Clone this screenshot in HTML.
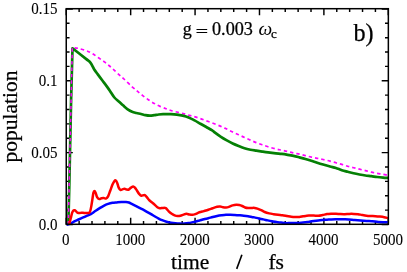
<!DOCTYPE html>
<html><head><meta charset="utf-8"><style>
html,body{margin:0;padding:0;background:#fff;}
svg{display:block;}
text{font-family:"Liberation Serif",serif;fill:#000;stroke:#000;stroke-width:0.25px;}
.tl{font-size:15.8px;stroke-width:0.1px;}
.al{font-size:21.5px;}
</style></head><body>
<svg width="407" height="272" viewBox="0 0 407 272">
<rect width="407" height="272" fill="#fff"/>
<path d="M66.25,224.3 v-6.6 M66.25,8.7 v6.6 M79.13,224.3 v-3.3 M79.13,8.7 v3.3 M92.01,224.3 v-3.3 M92.01,8.7 v3.3 M104.90,224.3 v-3.3 M104.90,8.7 v3.3 M117.78,224.3 v-3.3 M117.78,8.7 v3.3 M130.66,224.3 v-6.6 M130.66,8.7 v6.6 M143.54,224.3 v-3.3 M143.54,8.7 v3.3 M156.42,224.3 v-3.3 M156.42,8.7 v3.3 M169.31,224.3 v-3.3 M169.31,8.7 v3.3 M182.19,224.3 v-3.3 M182.19,8.7 v3.3 M195.07,224.3 v-6.6 M195.07,8.7 v6.6 M207.95,224.3 v-3.3 M207.95,8.7 v3.3 M220.83,224.3 v-3.3 M220.83,8.7 v3.3 M233.72,224.3 v-3.3 M233.72,8.7 v3.3 M246.60,224.3 v-3.3 M246.60,8.7 v3.3 M259.48,224.3 v-6.6 M259.48,8.7 v6.6 M272.36,224.3 v-3.3 M272.36,8.7 v3.3 M285.24,224.3 v-3.3 M285.24,8.7 v3.3 M298.13,224.3 v-3.3 M298.13,8.7 v3.3 M311.01,224.3 v-3.3 M311.01,8.7 v3.3 M323.89,224.3 v-6.6 M323.89,8.7 v6.6 M336.77,224.3 v-3.3 M336.77,8.7 v3.3 M349.65,224.3 v-3.3 M349.65,8.7 v3.3 M362.54,224.3 v-3.3 M362.54,8.7 v3.3 M375.42,224.3 v-3.3 M375.42,8.7 v3.3 M388.30,224.3 v-6.6 M388.30,8.7 v6.6 M66.25,224.50 h6.6 M388.3,224.50 h-6.6 M66.25,210.13 h3.3 M388.3,210.13 h-3.3 M66.25,195.75 h3.3 M388.3,195.75 h-3.3 M66.25,181.38 h3.3 M388.3,181.38 h-3.3 M66.25,167.01 h3.3 M388.3,167.01 h-3.3 M66.25,152.63 h6.6 M388.3,152.63 h-6.6 M66.25,138.26 h3.3 M388.3,138.26 h-3.3 M66.25,123.89 h3.3 M388.3,123.89 h-3.3 M66.25,109.51 h3.3 M388.3,109.51 h-3.3 M66.25,95.14 h3.3 M388.3,95.14 h-3.3 M66.25,80.77 h6.6 M388.3,80.77 h-6.6 M66.25,66.39 h3.3 M388.3,66.39 h-3.3 M66.25,52.02 h3.3 M388.3,52.02 h-3.3 M66.25,37.65 h3.3 M388.3,37.65 h-3.3 M66.25,23.27 h3.3 M388.3,23.27 h-3.3 M66.25,8.90 h6.6 M388.3,8.90 h-6.6" stroke="#000" stroke-width="1.45" fill="none"/>
<path d="M68.30,224.50 L72.30,47.60 C73.25,47.72 75.72,47.80 78.00,48.30 C80.28,48.80 83.67,49.77 86.00,50.60 C88.33,51.43 89.92,52.10 92.00,53.30 C94.08,54.50 96.43,56.37 98.50,57.80 C100.57,59.23 102.57,60.53 104.40,61.90 C106.23,63.27 107.78,64.53 109.50,66.00 C111.22,67.47 112.98,69.13 114.70,70.70 C116.42,72.27 118.17,73.93 119.80,75.40 C121.43,76.87 122.45,77.60 124.50,79.50 C126.55,81.40 129.97,84.85 132.10,86.80 C134.23,88.75 135.53,89.73 137.30,91.20 C139.07,92.67 140.87,94.18 142.70,95.60 C144.53,97.02 146.38,98.40 148.30,99.70 C150.22,101.00 152.23,102.28 154.20,103.40 C156.17,104.52 158.00,105.47 160.10,106.40 C162.20,107.33 165.00,108.32 166.80,109.00 C168.60,109.68 169.23,110.00 170.90,110.50 C172.57,111.00 174.58,111.43 176.80,112.00 C179.02,112.57 181.75,113.25 184.20,113.90 C186.65,114.55 189.05,115.20 191.50,115.90 C193.95,116.60 196.43,117.28 198.90,118.10 C201.37,118.92 203.83,119.90 206.30,120.80 C208.77,121.70 211.27,122.57 213.70,123.50 C216.13,124.43 218.72,125.47 220.90,126.40 C223.08,127.33 224.83,128.17 226.80,129.10 C228.77,130.03 230.73,131.07 232.70,132.00 C234.67,132.93 236.63,133.78 238.60,134.70 C240.57,135.62 242.53,136.60 244.50,137.50 C246.47,138.40 248.43,139.25 250.40,140.10 C252.37,140.95 254.33,141.82 256.30,142.60 C258.27,143.38 260.23,144.12 262.20,144.80 C264.17,145.48 265.82,146.00 268.10,146.70 C270.38,147.40 273.62,148.42 275.90,149.00 C278.18,149.58 279.83,149.78 281.80,150.20 C283.77,150.62 285.73,151.03 287.70,151.50 C289.67,151.97 291.63,152.55 293.60,153.00 C295.57,153.45 297.53,153.77 299.50,154.20 C301.47,154.63 303.43,155.12 305.40,155.60 C307.37,156.08 309.33,156.65 311.30,157.10 C313.27,157.55 315.23,157.90 317.20,158.30 C319.17,158.70 320.97,159.03 323.10,159.50 C325.23,159.97 327.87,160.55 330.00,161.10 C332.13,161.65 333.93,162.25 335.90,162.80 C337.87,163.35 339.83,163.83 341.80,164.40 C343.77,164.97 345.73,165.65 347.70,166.20 C349.67,166.75 351.63,167.20 353.60,167.70 C355.57,168.20 357.53,168.72 359.50,169.20 C361.47,169.68 363.43,170.12 365.40,170.60 C367.37,171.08 369.33,171.65 371.30,172.10 C373.27,172.55 375.23,172.93 377.20,173.30 C379.17,173.67 381.27,173.95 383.10,174.30 C384.93,174.65 387.35,175.22 388.20,175.40" stroke="#ff00ff" stroke-width="1.7" fill="none" stroke-dasharray="3.4,3" stroke-linejoin="round"/>
<path d="M68.30,224.50 L69.20,190.00 L71.10,100.00 L72.50,48.30 C74.75,50.07 83.02,56.52 86.00,58.90 C88.98,61.28 89.05,60.88 90.40,62.60 C91.75,64.32 92.87,67.23 94.10,69.20 C95.33,71.17 96.45,72.55 97.80,74.40 C99.15,76.25 100.73,78.35 102.20,80.30 C103.67,82.25 105.30,84.33 106.60,86.10 C107.90,87.87 108.70,89.00 110.00,90.90 C111.30,92.80 112.93,95.73 114.40,97.50 C115.87,99.27 117.32,100.15 118.80,101.50 C120.28,102.85 121.82,104.30 123.30,105.60 C124.78,106.90 126.23,108.27 127.70,109.30 C129.17,110.33 130.63,111.18 132.10,111.80 C133.57,112.42 135.02,112.63 136.50,113.00 C137.98,113.37 139.52,113.63 141.00,114.00 C142.48,114.37 143.93,114.92 145.40,115.20 C146.87,115.48 148.33,115.70 149.80,115.70 C151.27,115.70 152.72,115.40 154.20,115.20 C155.68,115.00 157.22,114.67 158.70,114.50 C160.18,114.33 161.07,114.25 163.10,114.20 C165.13,114.15 168.62,114.13 170.90,114.20 C173.18,114.27 174.83,114.37 176.80,114.60 C178.77,114.83 180.73,115.13 182.70,115.60 C184.67,116.07 186.63,116.60 188.60,117.40 C190.57,118.20 192.53,119.35 194.50,120.40 C196.47,121.45 198.43,122.60 200.40,123.70 C202.37,124.80 204.33,125.88 206.30,127.00 C208.27,128.12 210.75,129.45 212.20,130.40 C213.65,131.35 213.55,131.62 215.00,132.70 C216.45,133.78 218.93,135.62 220.90,136.90 C222.87,138.18 224.83,139.30 226.80,140.40 C228.77,141.50 230.73,142.57 232.70,143.50 C234.67,144.43 236.63,145.22 238.60,146.00 C240.57,146.78 242.53,147.58 244.50,148.20 C246.47,148.82 248.43,149.28 250.40,149.70 C252.37,150.12 254.33,150.38 256.30,150.70 C258.27,151.02 260.23,151.32 262.20,151.60 C264.17,151.88 265.82,152.12 268.10,152.40 C270.38,152.68 273.62,153.05 275.90,153.30 C278.18,153.55 279.83,153.65 281.80,153.90 C283.77,154.15 285.73,154.47 287.70,154.80 C289.67,155.13 291.63,155.47 293.60,155.90 C295.57,156.33 297.53,156.88 299.50,157.40 C301.47,157.92 303.43,158.43 305.40,159.00 C307.37,159.57 309.33,160.18 311.30,160.80 C313.27,161.42 315.23,162.08 317.20,162.70 C319.17,163.32 320.97,163.87 323.10,164.50 C325.23,165.13 327.87,165.92 330.00,166.50 C332.13,167.08 333.93,167.38 335.90,168.00 C337.87,168.62 339.83,169.57 341.80,170.20 C343.77,170.83 345.73,171.28 347.70,171.80 C349.67,172.32 351.63,172.85 353.60,173.30 C355.57,173.75 357.53,174.13 359.50,174.50 C361.47,174.87 363.43,175.22 365.40,175.50 C367.37,175.78 369.33,175.95 371.30,176.20 C373.27,176.45 375.23,176.77 377.20,177.00 C379.17,177.23 381.27,177.43 383.10,177.60 C384.93,177.77 387.35,177.93 388.20,178.00" stroke="#058005" stroke-width="2.7" fill="none" stroke-linejoin="round"/>
<path d="M68.3,224.5 L72.3,47.6" stroke="#ff00ff" stroke-width="1.5" fill="none" stroke-dasharray="3.4,3"/>
<path d="M66.60,224.70 C67.20,224.53 68.92,224.25 70.20,223.70 C71.48,223.15 72.92,222.10 74.30,221.40 C75.68,220.70 77.12,220.12 78.50,219.50 C79.88,218.88 81.23,218.30 82.60,217.70 C83.97,217.10 85.33,216.50 86.70,215.90 C88.07,215.30 89.43,214.87 90.80,214.10 C92.17,213.33 93.48,212.25 94.90,211.30 C96.32,210.35 97.83,209.32 99.30,208.40 C100.77,207.48 102.23,206.55 103.70,205.80 C105.17,205.05 106.63,204.40 108.10,203.90 C109.57,203.40 111.02,203.05 112.50,202.80 C113.98,202.55 115.52,202.52 117.00,202.40 C118.48,202.28 119.93,202.15 121.40,202.10 C122.87,202.05 124.57,202.03 125.80,202.10 C127.03,202.17 127.82,202.20 128.80,202.50 C129.78,202.80 130.48,203.30 131.70,203.90 C132.92,204.50 134.63,205.37 136.10,206.10 C137.57,206.83 139.12,207.60 140.50,208.30 C141.88,209.00 143.02,209.55 144.40,210.30 C145.78,211.05 147.32,211.93 148.80,212.80 C150.28,213.67 151.82,214.63 153.30,215.50 C154.78,216.37 156.23,217.22 157.70,218.00 C159.17,218.78 160.63,219.58 162.10,220.20 C163.57,220.82 165.02,221.28 166.50,221.70 C167.98,222.12 169.52,222.43 171.00,222.70 C172.48,222.97 173.93,223.15 175.40,223.30 C176.87,223.45 178.33,223.55 179.80,223.60 C181.27,223.65 182.72,223.68 184.20,223.60 C185.68,223.52 187.22,223.35 188.70,223.10 C190.18,222.85 191.63,222.45 193.10,222.10 C194.57,221.75 196.45,221.25 197.50,221.00 C198.55,220.75 198.35,220.88 199.40,220.60 C200.45,220.32 202.32,219.70 203.80,219.30 C205.28,218.90 206.82,218.58 208.30,218.20 C209.78,217.82 211.23,217.37 212.70,217.00 C214.17,216.63 215.63,216.28 217.10,216.00 C218.57,215.72 220.02,215.50 221.50,215.30 C222.98,215.10 224.52,214.88 226.00,214.80 C227.48,214.72 228.93,214.77 230.40,214.80 C231.87,214.83 233.33,214.92 234.80,215.00 C236.27,215.08 237.72,215.18 239.20,215.30 C240.68,215.42 242.22,215.53 243.70,215.70 C245.18,215.87 246.63,216.05 248.10,216.30 C249.57,216.55 251.45,217.02 252.50,217.20 C253.55,217.38 253.35,217.18 254.40,217.40 C255.45,217.62 257.32,218.17 258.80,218.50 C260.28,218.83 261.82,219.08 263.30,219.40 C264.78,219.72 266.23,220.08 267.70,220.40 C269.17,220.72 270.63,221.02 272.10,221.30 C273.57,221.58 275.02,221.88 276.50,222.10 C277.98,222.32 279.52,222.43 281.00,222.60 C282.48,222.77 283.93,223.02 285.40,223.10 C286.87,223.18 288.33,223.10 289.80,223.10 C291.27,223.10 292.72,223.13 294.20,223.10 C295.68,223.07 297.22,222.98 298.70,222.90 C300.18,222.82 301.63,222.73 303.10,222.60 C304.57,222.47 306.45,222.25 307.50,222.10 C308.55,221.95 308.35,221.88 309.40,221.70 C310.45,221.52 312.32,221.22 313.80,221.00 C315.28,220.78 316.82,220.57 318.30,220.40 C319.78,220.23 321.23,220.12 322.70,220.00 C324.17,219.88 325.63,219.80 327.10,219.70 C328.57,219.60 330.02,219.47 331.50,219.40 C332.98,219.33 334.52,219.32 336.00,219.30 C337.48,219.28 338.93,219.29 340.40,219.30 C341.87,219.31 343.40,219.32 344.80,219.35 C346.20,219.38 347.15,219.39 348.80,219.50 C350.45,219.61 352.73,219.85 354.70,220.00 C356.67,220.15 358.63,220.25 360.60,220.40 C362.57,220.55 364.53,220.75 366.50,220.90 C368.47,221.05 370.43,221.13 372.40,221.30 C374.37,221.47 376.33,221.75 378.30,221.90 C380.27,222.05 382.60,222.13 384.20,222.20 C385.80,222.27 387.28,222.28 387.90,222.30" stroke="#0000ff" stroke-width="2.5" fill="none" stroke-linejoin="round"/>
<path d="M69.20,224.20 C69.42,223.34 70.27,220.19 70.70,218.50 C71.14,216.81 71.71,214.09 72.10,212.90 C72.49,211.72 72.92,210.99 73.30,210.60 C73.67,210.21 74.21,210.23 74.60,210.30 C74.99,210.38 75.48,210.75 75.90,211.10 C76.32,211.44 76.86,212.30 77.40,212.60 C77.94,212.90 78.89,213.09 79.50,213.10 C80.11,213.11 80.81,212.73 81.50,212.70 C82.19,212.67 83.32,212.87 84.10,212.90 C84.88,212.93 85.97,212.90 86.70,212.90 C87.44,212.90 88.46,213.22 89.00,212.90 C89.54,212.59 89.95,211.81 90.30,210.80 C90.64,209.80 91.00,207.82 91.30,206.20 C91.60,204.58 91.98,202.03 92.30,200.00 C92.61,197.97 93.09,194.05 93.40,192.70 C93.72,191.35 94.07,191.00 94.40,191.00 C94.73,191.00 95.19,191.77 95.60,192.70 C96.00,193.63 96.54,196.24 97.10,197.20 C97.66,198.16 98.64,198.95 99.30,199.10 C99.96,199.25 100.84,198.38 101.50,198.20 C102.16,198.02 103.04,197.84 103.70,197.90 C104.36,197.96 105.24,198.82 105.90,198.60 C106.56,198.38 107.44,197.62 108.10,196.40 C108.76,195.19 109.64,192.27 110.30,190.50 C110.96,188.73 111.90,186.00 112.50,184.60 C113.10,183.20 113.80,181.81 114.30,181.20 C114.80,180.58 115.35,180.20 115.80,180.50 C116.25,180.80 116.86,182.13 117.30,183.20 C117.73,184.26 118.20,186.56 118.70,187.60 C119.20,188.63 119.97,189.88 120.60,190.10 C121.23,190.32 122.30,189.29 122.90,189.10 C123.50,188.91 124.06,188.74 124.60,188.80 C125.14,188.86 125.87,189.40 126.50,189.50 C127.13,189.60 128.12,189.78 128.80,189.50 C129.48,189.22 130.34,188.06 131.00,187.60 C131.66,187.13 132.61,186.40 133.20,186.40 C133.78,186.40 134.34,186.98 134.90,187.60 C135.46,188.22 136.27,189.56 136.90,190.50 C137.53,191.44 138.44,193.12 139.10,193.90 C139.76,194.68 140.64,195.50 141.30,195.70 C141.96,195.89 142.97,195.27 143.50,195.20 C144.03,195.12 144.34,194.96 144.80,195.20 C145.27,195.44 145.88,196.00 146.60,196.80 C147.32,197.60 148.59,199.50 149.60,200.50 C150.60,201.50 152.19,202.54 153.30,203.50 C154.41,204.46 156.01,206.19 157.00,206.90 C157.99,207.61 159.02,208.05 159.90,208.20 C160.78,208.35 162.02,207.90 162.90,207.90 C163.78,207.90 164.93,207.69 165.80,208.20 C166.67,208.71 167.81,210.46 168.70,211.30 C169.58,212.14 170.81,213.19 171.70,213.80 C172.58,214.42 173.72,215.06 174.60,215.40 C175.48,215.75 176.72,216.06 177.60,216.10 C178.48,216.14 179.62,215.93 180.50,215.70 C181.38,215.48 182.62,214.88 183.50,214.60 C184.38,214.31 185.52,213.81 186.40,213.80 C187.28,213.79 188.52,214.35 189.40,214.50 C190.28,214.65 191.42,214.86 192.30,214.80 C193.19,214.74 194.24,214.47 195.30,214.10 C196.37,213.72 198.12,212.75 199.40,212.30 C200.68,211.85 202.47,211.47 203.80,211.10 C205.14,210.72 206.97,210.24 208.30,209.80 C209.64,209.37 211.38,208.66 212.70,208.20 C214.02,207.73 215.99,206.97 217.10,206.70 C218.21,206.43 219.22,206.33 220.10,206.40 C220.98,206.47 222.12,207.03 223.00,207.20 C223.88,207.36 225.12,207.54 226.00,207.50 C226.88,207.46 227.91,207.22 228.90,206.90 C229.89,206.59 231.49,205.73 232.60,205.40 C233.71,205.07 235.31,204.76 236.30,204.70 C237.29,204.64 238.31,204.81 239.20,205.00 C240.08,205.19 241.31,205.62 242.20,206.00 C243.08,206.38 244.22,207.19 245.10,207.50 C245.98,207.81 247.09,208.04 248.10,208.10 C249.10,208.16 250.81,207.93 251.80,207.90 C252.79,207.87 253.86,207.80 254.70,207.90 C255.54,208.00 256.44,208.27 257.40,208.60 C258.36,208.93 260.00,209.59 261.10,210.10 C262.20,210.61 263.49,211.50 264.70,212.00 C265.91,212.50 267.87,213.07 269.20,213.40 C270.53,213.73 272.28,213.99 273.60,214.20 C274.92,214.41 276.68,214.64 278.00,214.80 C279.32,214.97 281.06,215.12 282.40,215.30 C283.73,215.48 285.56,215.79 286.90,216.00 C288.23,216.21 289.98,216.55 291.30,216.70 C292.62,216.85 294.49,216.95 295.70,217.00 C296.91,217.05 298.29,217.10 299.40,217.00 C300.51,216.90 301.99,216.50 303.10,216.30 C304.21,216.11 305.86,215.80 306.80,215.70 C307.75,215.59 308.35,215.61 309.40,215.60 C310.45,215.59 312.47,215.59 313.80,215.60 C315.13,215.61 316.97,215.79 318.30,215.70 C319.63,215.61 321.38,215.24 322.70,215.00 C324.02,214.76 325.78,214.28 327.10,214.10 C328.42,213.92 330.17,213.86 331.50,213.80 C332.83,213.74 334.67,213.66 336.00,213.70 C337.33,213.74 339.08,214.03 340.40,214.10 C341.72,214.17 343.48,214.23 344.80,214.20 C346.12,214.17 347.87,213.94 349.20,213.90 C350.53,213.86 352.37,213.86 353.70,213.90 C355.03,213.94 356.84,214.03 358.10,214.20 C359.36,214.36 360.84,214.78 362.10,215.00 C363.36,215.22 365.17,215.55 366.50,215.70 C367.83,215.85 369.67,215.93 371.00,216.00 C372.33,216.07 374.08,216.11 375.40,216.20 C376.72,216.29 378.48,216.45 379.80,216.60 C381.12,216.75 382.99,216.97 384.20,217.20 C385.41,217.42 387.34,217.97 387.90,218.10" stroke="#ff0000" stroke-width="2.5" fill="none" stroke-linejoin="round"/>
<rect x="66.25" y="8.7" width="322.1" height="215.6" fill="none" stroke="#000" stroke-width="1.5"/>
<defs><mask id="m"><rect width="407" height="272" fill="#fff"/></mask></defs>
<g mask="url(#m)">
<text transform="translate(65.8,244.9) scale(0.95,1)" text-anchor="middle" class="tl">0</text>
<text transform="translate(130.3,244.9) scale(0.95,1)" text-anchor="middle" class="tl">1000</text>
<text transform="translate(194.7,244.9) scale(0.95,1)" text-anchor="middle" class="tl">2000</text>
<text transform="translate(259.1,244.9) scale(0.95,1)" text-anchor="middle" class="tl">3000</text>
<text transform="translate(323.5,244.9) scale(0.95,1)" text-anchor="middle" class="tl">4000</text>
<text transform="translate(387.9,244.9) scale(0.95,1)" text-anchor="middle" class="tl">5000</text>
<text transform="translate(57.6,229.6) scale(0.95,1)" text-anchor="end" class="tl">0.0</text>
<text transform="translate(57.6,157.7) scale(0.95,1)" text-anchor="end" class="tl">0.05</text>
<text transform="translate(57.6,85.9) scale(0.95,1)" text-anchor="end" class="tl">0.1</text>
<text transform="translate(57.6,14.0) scale(0.95,1)" text-anchor="end" class="tl">0.15</text>

<text transform="translate(17.2,162.5) rotate(-90)" class="al">population</text>
<text x="171" y="268.7" class="al">time</text>
<path d="M236.7,268.9 L241.9,254.7" stroke="#000" stroke-width="1.6" fill="none"/>
<text x="268.4" y="268.7" class="al">fs</text>
<text x="182.7" y="35.3" style="font-size:18px">g</text>
<path d="M196.5,29.5 H207.2 M196.5,32.5 H207.2" stroke="#000" stroke-width="1.15" fill="none"/>
<text x="212.0" y="35.3" style="font-size:18.2px">0.003</text>
<text transform="translate(258.6,35.3) scale(1.08,1)" style="font-size:18px;font-style:italic;stroke-width:0">ω</text>
<text x="270.9" y="38.2" style="font-size:13px">c</text>
<text x="353.4" y="40.8" style="font-size:24.2px">b)</text>
</g>
</svg>
</body></html>
